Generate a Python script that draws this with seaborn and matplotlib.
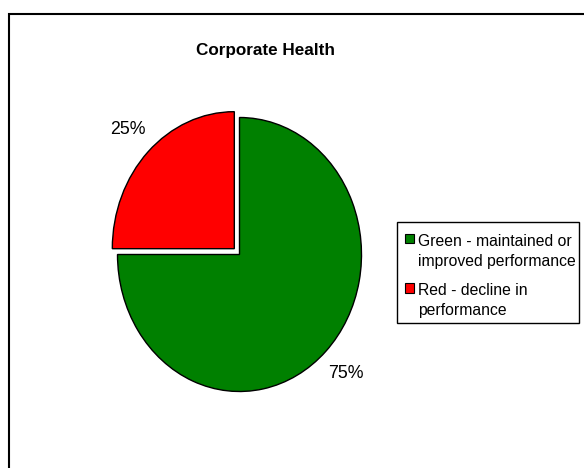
"""
Corporate Health pie chart (green vs. red performance share).
"""

import matplotlib
matplotlib.use("Agg")

import matplotlib.pyplot as plt
import seaborn as sns
from matplotlib.patches import Patch, Rectangle

# =============================================================================
# Data
# =============================================================================

TITLE = "Corporate Health"

CATEGORIES = [
    "Green - maintained or\nimproved performance",
    "Red - decline in\nperformance",
]

SHARES = [75, 25]

COLORS = ["#008000", "#FF0000"]

EXPLODE = [0.0, 0.06]

# =============================================================================
# Style
# =============================================================================

sns.set_theme(style="white")
plt.rcParams["font.family"] = ["Liberation Sans", "DejaVu Sans"]

W, H = 584, 468
DPI = 100

fig = plt.figure(figsize=(W / DPI, H / DPI), dpi=DPI)
fig.patch.set_facecolor("white")

# pie area in pixels: centre (239.5, 254.5), radii 122 x 137
cx, cy, rx, ry = 239.5, 254.5, 122, 137
ax = fig.add_axes([
    (cx - rx) / W,
    (H - cy - ry) / H,
    2 * rx / W,
    2 * ry / H,
])

wedges, texts, autotexts = ax.pie(
    SHARES,
    colors=COLORS,
    explode=EXPLODE,
    startangle=90,
    counterclock=False,
    autopct="%1.0f%%",
    pctdistance=1.23,
    wedgeprops=dict(edgecolor="black", linewidth=1.0),
    textprops=dict(fontsize=12.8, color="black"),
)

ax.set_aspect("auto")
ax.set_xlim(-1, 1)
ax.set_ylim(-1, 1)
ax.axis("off")

# -----------------------------------------------------------------------------
# Title
# -----------------------------------------------------------------------------

fig.text(
    265.5 / W, 1 - 50 / H, TITLE,
    ha="center", va="center",
    fontsize=12.3, fontweight="bold", color="black",
)

# -----------------------------------------------------------------------------
# Legend (entries without frame; the box is drawn separately because the
# original has a wider left margin than right margin)
# -----------------------------------------------------------------------------

handles = [
    Patch(facecolor=c, edgecolor="black", linewidth=0.8)
    for c in COLORS
]

leg = fig.legend(
    handles, CATEGORIES,
    loc="upper left",
    bbox_to_anchor=(405 / W, 1 - 234 / H),
    bbox_transform=fig.transFigure,
    fontsize=11.3,
    frameon=False,
    borderpad=0,
    handlelength=0.55,
    handleheight=0.55,
    handletextpad=0.28,
    labelspacing=0.9,
    borderaxespad=0,
)

for t in leg.get_texts():
    t.set_color("black")
    t.set_linespacing(1.42)

# align the colour squares with the first text line
handle_box = leg.get_children()[0].get_children()[1]
for column in handle_box.get_children():
    for item in column.get_children():
        item.align = "top"

fig.add_artist(Rectangle(
    (397 / W, 1 - 323 / H), 182 / W, 101 / H,
    transform=fig.transFigure,
    fill=False, edgecolor="black", linewidth=1.0,
))

# -----------------------------------------------------------------------------
# Outer border (runs off the right and bottom edges)
# -----------------------------------------------------------------------------

fig.add_artist(Rectangle(
    (8.5 / W, -0.2), 1.2, 1.2 - 14.3 / H,
    transform=fig.transFigure,
    fill=False, edgecolor="black", linewidth=1.5,
))

fig.savefig("out.png", dpi=DPI)
plt.close(fig)
